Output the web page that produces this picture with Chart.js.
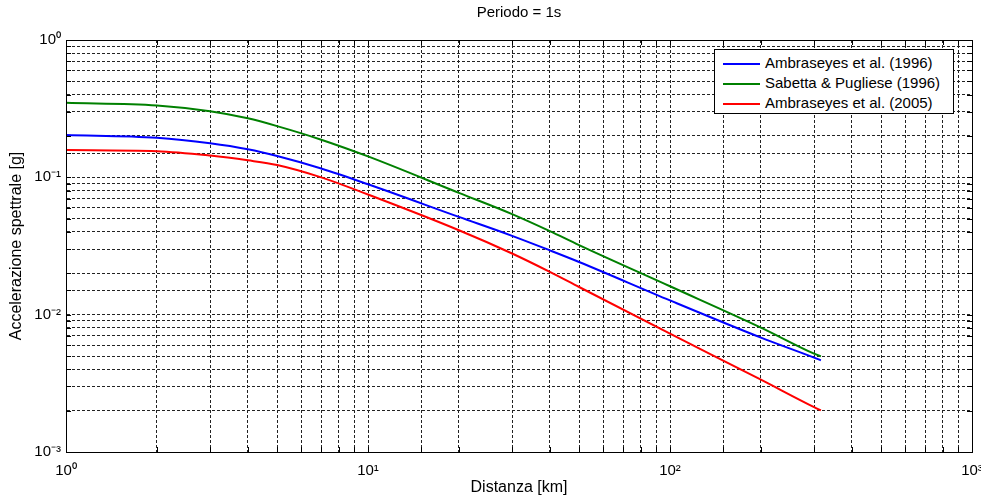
<!DOCTYPE html>
<html>
<head>
<meta charset="utf-8">
<title>Periodo = 1s</title>
<script src="https://cdn.jsdelivr.net/npm/chart.js@4.4.0/dist/chart.umd.min.js"></script>
<style>
  body { margin: 0; background: #fff; }
  #wrap { position: relative; width: 981px; height: 497px; }
  #legend {
    position: absolute; left: 714px; top: 49px; width: 238px; height: 63px;
    border: 1px solid #000; background: #fff;
    font: 15px "Liberation Sans", Arial, sans-serif; color: #000;
  }
  #legend div { position: absolute; left: 8px; height: 20px; line-height: 20px; white-space: nowrap; }
  #legend span.swatch { display: inline-block; width: 37px; height: 2px; vertical-align: middle; margin-right: 5px; }
</style>
</head>
<body>
<div id="wrap">
  <canvas id="myChart"></canvas>
  <div id="legend"></div>
</div>
<script>
// distance [km] and spectral acceleration [g] at T = 1s
var distances = [1, 2, 3, 4, 5, 7, 10, 20, 30, 40, 50, 100, 200, 300, 316];
var ambraseyes1996 = [0.203, 0.194, 0.177, 0.160, 0.143, 0.116, 0.089, 0.0515, 0.0375, 0.0294, 0.0242, 0.0127, 0.00681, 0.00487, 0.00465];
var sabettaPugliese = [0.349, 0.334, 0.303, 0.269, 0.236, 0.188, 0.142, 0.0771, 0.0540, 0.0406, 0.0321, 0.0161, 0.00805, 0.0052, 0.00497];
var ambraseyes2005 = [0.158, 0.155, 0.144, 0.133, 0.123, 0.100, 0.075, 0.0412, 0.0279, 0.0205, 0.0159, 0.00728, 0.00336, 0.00212, 0.00201];

var seriesNames = ['Ambraseyes et al. (1996)', 'Sabetta & Pugliese (1996)', 'Ambraseyes et al. (2005)'];
var seriesColors = ['#0000ff', '#008000', '#ff0000'];
var plotTitle = 'Periodo = 1s';

var FONT = '"Liberation Sans", Arial, sans-serif';

function toPoints(values) {
  return distances.map(function (d, i) { return { x: d, y: values[i] }; });
}

// label only the decades, as 10 with a superscript exponent
var sup = { '0': '\u2070', '1': '\u00b9', '2': '\u00b2', '3': '\u00b3', '-': '\u207b' };
function decadeLabel(v) {
  var e = Math.log10(v);
  if (Math.abs(e - Math.round(e)) > 1e-6) return '';
  return '10' + String(Math.round(e)).split('').map(function (c) { return sup[c]; }).join('');
}

// black box round the axes with inward tick marks, title centred over the axes
var axesBox = {
  id: 'axesBox',
  afterDatasetsDraw: function (chart) {
    var a = chart.chartArea, ctx = chart.ctx;
    ctx.save();
    ctx.strokeStyle = '#000';
    ctx.lineWidth = 1;
    ctx.beginPath();
    chart.scales.x.ticks.forEach(function (t) {
      var px = Math.round(chart.scales.x.getPixelForValue(t.value)) + 0.5;
      ctx.moveTo(px, a.bottom); ctx.lineTo(px, a.bottom - 5);
      ctx.moveTo(px, a.top); ctx.lineTo(px, a.top + 5);
    });
    chart.scales.y.ticks.forEach(function (t) {
      var py = Math.round(chart.scales.y.getPixelForValue(t.value)) + 0.5;
      ctx.moveTo(a.left, py); ctx.lineTo(a.left + 5, py);
      ctx.moveTo(a.right, py); ctx.lineTo(a.right - 5, py);
    });
    ctx.stroke();
    ctx.strokeRect(Math.round(a.left) + 0.5, Math.round(a.top) + 0.5,
                   Math.round(a.right - a.left), Math.round(a.bottom - a.top));

    ctx.fillStyle = '#000';
    ctx.font = '15px ' + FONT;
    ctx.textAlign = 'center';
    ctx.textBaseline = 'middle';
    ctx.fillText(plotTitle, (a.left + a.right) / 2, 13);
    ctx.restore();
  }
};

var ctx = document.getElementById('myChart').getContext('2d');
var myChart = new Chart(ctx, {
  type: 'line',
  data: {
    datasets: [
      { label: seriesNames[0], data: toPoints(ambraseyes1996), borderColor: seriesColors[0] },
      { label: seriesNames[1], data: toPoints(sabettaPugliese), borderColor: seriesColors[1] },
      { label: seriesNames[2], data: toPoints(ambraseyes2005), borderColor: seriesColors[2] }
    ]
  },
  options: {
    responsive: true,
    maintainAspectRatio: false,
    animation: false,
    layout: { padding: { left: 0, right: 9, top: 40, bottom: 0 } },
    elements: {
      line: { borderWidth: 2, cubicInterpolationMode: 'monotone', fill: false },
      point: { radius: 0 }
    },
    plugins: {
      legend: { display: false },
      tooltip: { enabled: false },
      title: { display: false }
    },
    scales: {
      x: {
        type: 'logarithmic',
        min: 1, max: 1000,
        afterFit: function (scale) {
          scale.height = 45;
          // let the end labels hang past the axes box
          scale.paddingLeft = 0;
          scale.paddingRight = 0;
        },
        grid: { color: '#222', lineWidth: 1, drawTicks: false },
        border: { color: '#000', dash: [3, 2] },
        ticks: {
          autoSkip: false, maxRotation: 0, padding: 10, color: '#000',
          font: { family: FONT, size: 15 },
          callback: function (v) { return decadeLabel(v); }
        },
        title: {
          display: true, text: 'Distanza [km]', color: '#000',
          font: { family: FONT, size: 16 }, padding: 0
        }
      },
      y: {
        type: 'logarithmic',
        min: 0.001, max: 1,
        afterFit: function (scale) {
          scale.width = 66;
          scale.paddingTop = 0;
          scale.paddingBottom = 0;
        },
        grid: { color: '#222', lineWidth: 1, drawTicks: false },
        border: { color: '#000', dash: [3, 2] },
        ticks: {
          autoSkip: false, padding: 5, color: '#000',
          font: { family: FONT, size: 15 },
          callback: function (v) { return decadeLabel(v); }
        },
        title: {
          display: true, text: 'Accelerazione spettrale [g]', color: '#000',
          font: { family: FONT, size: 16 }, padding: { top: 7, bottom: 0 }
        }
      }
    }
  },
  plugins: [axesBox]
});

// legend box inside the plot, built from the datasets
var legendBox = document.getElementById('legend');
myChart.data.datasets.forEach(function (ds, i) {
  var row = document.createElement('div');
  row.style.top = (3 + i * 20) + 'px';
  var sw = document.createElement('span');
  sw.className = 'swatch';
  sw.style.background = ds.borderColor;
  row.appendChild(sw);
  row.appendChild(document.createTextNode(ds.label));
  legendBox.appendChild(row);
});
</script>
</body>
</html>
